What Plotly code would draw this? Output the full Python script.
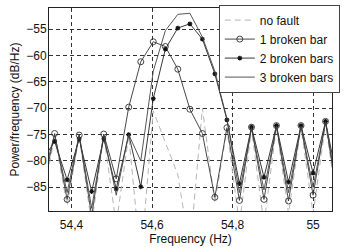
import plotly.graph_objects as go

freq = [54.327, 54.358, 54.389, 54.419, 54.450, 54.480, 54.511, 54.542, 54.572,
        54.603, 54.633, 54.664, 54.694, 54.725, 54.756, 54.786, 54.817, 54.847,
        54.878, 54.909, 54.939, 54.970, 55.000, 55.031, 55.061]

no_fault = [-88, -75.3, -88.5, -75.3, -92, -75.2, -92, -75.2, -99, -70.5, -76.5,
            -82.6, -97, -70, -88, -74, -92, -74, -92, -73.5, -90, -73.5, -90, -73, -89]
one_bar = [-86, -74.8, -87.3, -75.1, -90.5, -74.9, -83.4, -69.8, -61.2, -57.4, -58.3,
           -62.6, -70.2, -74.8, -86.9, -73.7, -87.5, -73.6, -87.3, -73.3, -87.6, -73.3,
           -86.5, -72.5, -87.5]
two_bars = [-80, -76.3, -83.6, -75.8, -85.8, -75.8, -85.3, -75, -84.9, -68.2, -58.8,
            -54.8, -54.0, -56.9, -63.5, -72.2, -84.3, -73.6, -83.1, -73.3, -84.0, -73.3,
            -82.3, -72.5, -84]
three_bars = [-84, -75, -86, -75, -89, -75, -86.5, -75, -80, -63, -55.3, -52.2, -52.0,
              -56.5, -63, -72, -86, -73.7, -85.5, -73.4, -86, -73.4, -85, -72.6, -86]

x_tickvals = [54.4, 54.6, 54.8, 55.0]
x_ticktext = ["54,4", "54,6", "54,8", "55"]
y_tickvals = [-55, -60, -65, -70, -75, -80, -85]

fig = go.Figure()
fig.add_trace(go.Scatter(x=freq, y=no_fault, name="no fault", mode="lines",
                         line=dict(color="#b5b5b5", width=1, dash="6px,4px")))
fig.add_trace(go.Scatter(x=freq, y=one_bar, name="1 broken bar", mode="lines+markers",
                         line=dict(color="#333333", width=0.9),
                         marker=dict(symbol="circle-open", size=6, color="#333333",
                                     line=dict(width=0.9, color="#333333"))))
fig.add_trace(go.Scatter(x=freq, y=two_bars, name="2 broken bars", mode="lines+markers",
                         line=dict(color="#222222", width=0.9),
                         marker=dict(symbol="asterisk-open", size=4, color="#111111",
                                     line=dict(width=1.2, color="#111111"))))
fig.add_trace(go.Scatter(x=freq, y=three_bars, name="3 broken bars", mode="lines",
                         line=dict(color="#444444", width=0.9)))

font = "Liberation Sans, Arial, sans-serif"
fig.update_layout(
    width=362, height=251,
    margin=dict(l=49, r=30, t=8, b=40, autoexpand=False),
    paper_bgcolor="white", plot_bgcolor="white",
    font=dict(family=font, size=12, color="#111111"),
    showlegend=True,
    legend=dict(x=0.60, y=0.80, xanchor="left", yanchor="middle",
                bgcolor="white", bordercolor="#444444", borderwidth=1,
                font=dict(size=12), tracegroupgap=0, itemwidth=30),
    xaxis=dict(range=[54.344, 55.047], tickvals=x_tickvals, ticktext=x_ticktext,
               showgrid=True, gridcolor="#333333", griddash="4px,3px", gridwidth=0.8,
               showline=True, linecolor="#222222", linewidth=1, mirror=True,
               zeroline=False, ticks="", automargin=False, ticklabelstandoff=3,
               title=dict(text="Frequency (Hz)", standoff=0, font=dict(size=12))),
    yaxis=dict(range=[-89.5, -51.0], tickvals=y_tickvals,
               showgrid=True, gridcolor="#333333", griddash="4px,3px", gridwidth=0.8,
               showline=True, linecolor="#222222", linewidth=1, mirror=True,
               zeroline=False, ticks="", automargin=False, ticklabelstandoff=-1,
               title=dict(text="Power/frequency (dB/Hz)", standoff=4, font=dict(size=12))),
)

fig.write_html("out.html", config={"displayModeBar": False},
               post_script="document.body.style.margin='0px';document.body.style.padding='0px';")
